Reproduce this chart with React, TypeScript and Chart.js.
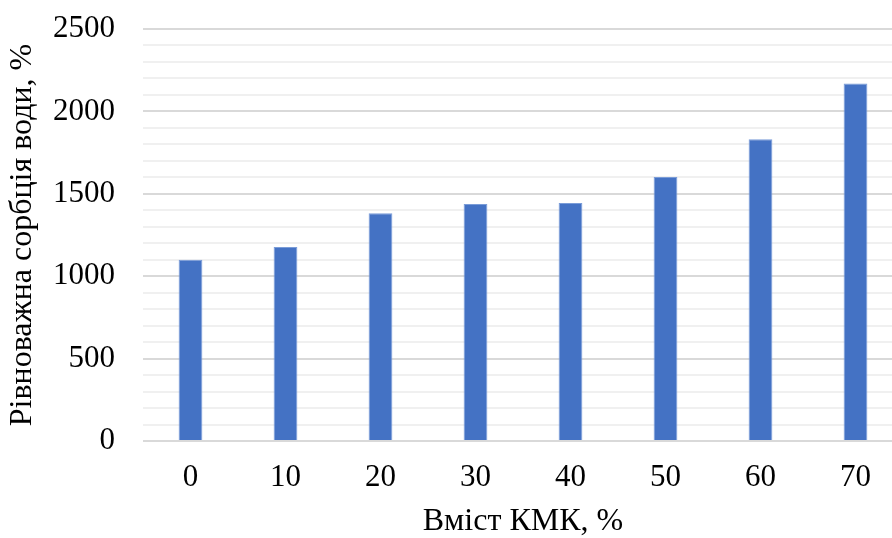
import React, { useEffect, useRef } from "react";
import { Chart, registerables } from "chart.js";

Chart.register(...registerables);

const categories = ["0", "10", "20", "30", "40", "50", "60", "70"];
const sorptionValues = [1100, 1177, 1382, 1438, 1444, 1602, 1831, 2170];
const yMax = 2500;
const majorStep = 500;
const minorStep = 100;
const xTitle = "Вміст КМК, %";
const yTitle = "Рівноважна сорбція води, %";

export default function App() {
  const ref = useRef<HTMLCanvasElement | null>(null);
  useEffect(() => {
    document.body.style.margin = "0";
    document.body.style.overflow = "hidden";
    const font = "'Liberation Serif', 'Times New Roman', serif";
    const chart = new Chart(ref.current!, {
      type: "bar",
      data: {
        labels: categories,
        datasets: [
          {
            data: sorptionValues,
            backgroundColor: "#4472c4",
            borderColor: "#7a9cd8",
            borderWidth: 1,
            barPercentage: 0.25,
            categoryPercentage: 1,
          },
        ],
      },
      options: {
        animation: false,
        responsive: false,
        maintainAspectRatio: false,
        layout: { padding: { left: 7, right: 0, top: 29, bottom: 0 } },
        plugins: { legend: { display: false }, tooltip: { enabled: false } },
        scales: {
          x: {
            grid: {
              display: true,
              drawOnChartArea: false,
              drawTicks: true,
              tickLength: 17.5,
              tickColor: "rgba(0,0,0,0)",
              color: "rgba(0,0,0,0)",
            },
            border: { display: false },
            ticks: {
              color: "#000",
              font: { family: font, size: 31, lineHeight: 1 },
              padding: 4,
            },
            title: {
              display: true,
              text: xTitle,
              color: "#000",
              font: { family: font, size: 32, lineHeight: 1 },
              padding: { top: 8.5, bottom: 0 },
            },
          },
          y: {
            min: 0,
            max: yMax,
            border: { display: false },
            grid: {
              drawTicks: true,
              tickLength: 20,
              tickColor: "rgba(0,0,0,0)",
              color: (ctx: any) =>
                ctx.tick && ctx.tick.value % majorStep === 0 ? "#d9d9d9" : "#f0f0f0",
              lineWidth: 2,
            },
            ticks: {
              stepSize: minorStep,
              autoSkip: false,
              color: "#000",
              font: { family: font, size: 31, lineHeight: 1 },
              padding: 8,
              callback: (v: any) => (Number(v) % majorStep === 0 ? String(v) : ""),
            },
            title: {
              display: true,
              text: yTitle,
              color: "#000",
              font: { family: font, size: 32, lineHeight: 1 },
              padding: { top: 0, bottom: 6 },
            },
          },
        },
      },
    });
    return () => chart.destroy();
  }, []);
  return (
    <div style={{ position: "absolute", left: 0, top: 0, width: 903, height: 538 }}>
      <canvas ref={ref} width={903} height={538} style={{ width: 903, height: 538 }} />
    </div>
  );
}
